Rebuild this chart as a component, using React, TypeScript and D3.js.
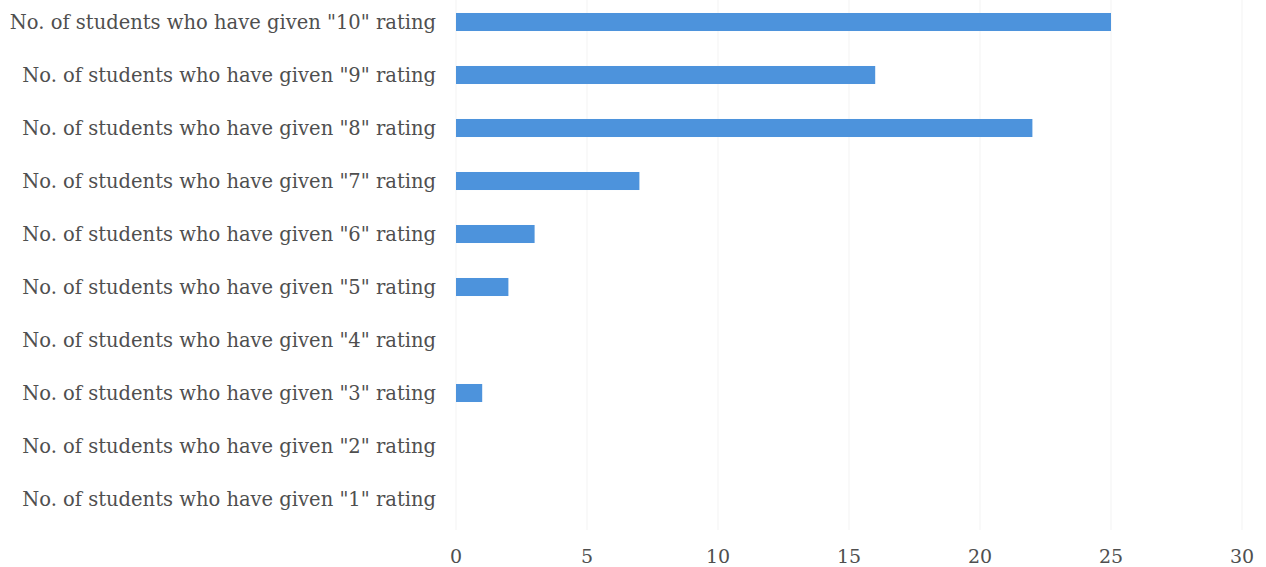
import React from "react";
import * as d3 from "d3";

const categories = [
  'No. of students who have given "10" rating',
  'No. of students who have given "9" rating',
  'No. of students who have given "8" rating',
  'No. of students who have given "7" rating',
  'No. of students who have given "6" rating',
  'No. of students who have given "5" rating',
  'No. of students who have given "4" rating',
  'No. of students who have given "3" rating',
  'No. of students who have given "2" rating',
  'No. of students who have given "1" rating',
];
const values = [25, 16, 22, 7, 3, 2, 0, 1, 0, 0];
const xTicks = [0, 5, 10, 15, 20, 25, 30];

const W = 1266;
const H = 567;

export default function App() {
  const x = d3.scaleLinear().domain([0, 30]).range([456, 1242]);
  const y = d3.scaleBand<string>().domain(categories).range([-4.5, 525.5]).paddingInner(0.66).paddingOuter(0.33);
  const font = "'DejaVu Serif', serif";
  return (
    <svg width={W} height={H} style={{ position: "absolute", left: 0, top: 0, background: "#fff" }}>
      {xTicks.map((t) => (
        <line key={"g" + t} x1={x(t)} x2={x(t)} y1={0} y2={530} stroke="#f3f3f3" strokeWidth={1} />
      ))}
      {categories.map((c, i) => (
        <rect key={c} x={x(0)} y={y(c)!} width={x(values[i]) - x(0)} height={y.bandwidth()} fill="#4d93dc" />
      ))}
      {categories.map((c) => (
        <text
          key={"l" + c}
          x={436}
          y={y(c)! + y.bandwidth() / 2}
          textAnchor="end"
          dominantBaseline="central"
          fontFamily={font}
          fontSize={19.5}
          fill="#4f4f4f"
        >
          {c}
        </text>
      ))}
      {xTicks.map((t) => (
        <text
          key={"t" + t}
          x={x(t)}
          y={556}
          textAnchor="middle"
          dominantBaseline="central"
          fontFamily={font}
          fontSize={19}
          fill="#4f4f4f"
        >
          {t}
        </text>
      ))}
    </svg>
  );
}
